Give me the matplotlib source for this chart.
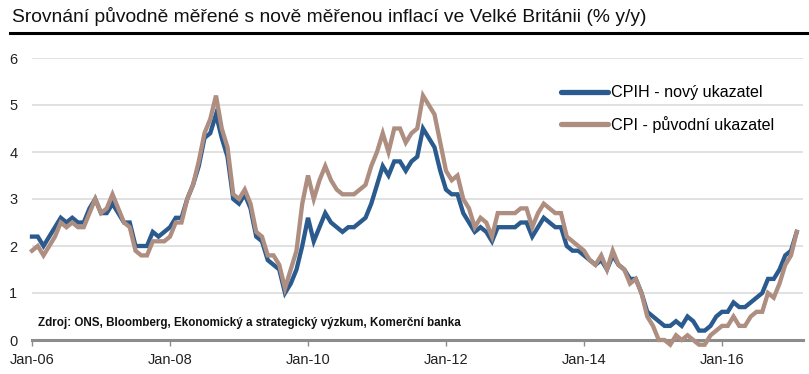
import numpy as np
import matplotlib
matplotlib.use("Agg")
import matplotlib.pyplot as plt

plt.rcParams['font.family'] = ['Liberation Sans', 'DejaVu Sans']

# monthly data, Jan 2006 - Feb 2017 (% y/y)
cpih = [
    2.2, 2.2, 2.0, 2.2, 2.4, 2.6, 2.5, 2.6, 2.5, 2.5, 2.8, 3.0,   # 2006
    2.7, 2.7, 2.9, 2.7, 2.5, 2.5, 2.0, 2.0, 2.0, 2.3, 2.2, 2.3,   # 2007
    2.4, 2.6, 2.6, 3.0, 3.3, 3.7, 4.3, 4.4, 4.8, 4.3, 3.9, 3.0,   # 2008
    2.9, 3.1, 2.8, 2.2, 2.1, 1.7, 1.6, 1.5, 1.0, 1.2, 1.5, 2.0,   # 2009
    2.6, 2.1, 2.4, 2.7, 2.5, 2.4, 2.3, 2.4, 2.4, 2.5, 2.6, 2.9,   # 2010
    3.3, 3.7, 3.5, 3.8, 3.8, 3.6, 3.8, 3.9, 4.5, 4.3, 4.1, 3.6,   # 2011
    3.2, 3.1, 3.1, 2.7, 2.5, 2.3, 2.4, 2.3, 2.1, 2.4, 2.4, 2.4,   # 2012
    2.4, 2.5, 2.5, 2.2, 2.4, 2.6, 2.5, 2.4, 2.4, 2.0, 1.9, 1.9,   # 2013
    1.8, 1.7, 1.6, 1.7, 1.5, 1.8, 1.6, 1.5, 1.3, 1.3, 1.0, 0.6,   # 2014
    0.5, 0.4, 0.3, 0.3, 0.4, 0.3, 0.5, 0.4, 0.2, 0.2, 0.3, 0.5,   # 2015
    0.6, 0.6, 0.8, 0.7, 0.7, 0.8, 0.9, 1.0, 1.3, 1.3, 1.5, 1.8,   # 2016
    1.9, 2.3,                                                     # 2017
]
cpi = [
    1.9, 2.0, 1.8, 2.0, 2.2, 2.5, 2.4, 2.5, 2.4, 2.4, 2.7, 3.0,
    2.7, 2.8, 3.1, 2.8, 2.5, 2.4, 1.9, 1.8, 1.8, 2.1, 2.1, 2.1,
    2.2, 2.5, 2.5, 3.0, 3.3, 3.8, 4.4, 4.7, 5.2, 4.5, 4.1, 3.1,
    3.0, 3.2, 2.9, 2.3, 2.2, 1.8, 1.8, 1.6, 1.1, 1.5, 1.9, 2.9,
    3.5, 3.0, 3.4, 3.7, 3.4, 3.2, 3.1, 3.1, 3.1, 3.2, 3.3, 3.7,
    4.0, 4.4, 4.0, 4.5, 4.5, 4.2, 4.4, 4.5, 5.2, 5.0, 4.8, 4.2,
    3.6, 3.4, 3.5, 3.0, 2.8, 2.4, 2.6, 2.5, 2.2, 2.7, 2.7, 2.7,
    2.7, 2.8, 2.8, 2.4, 2.7, 2.9, 2.8, 2.7, 2.7, 2.2, 2.1, 2.0,
    1.9, 1.7, 1.6, 1.8, 1.5, 1.9, 1.6, 1.5, 1.2, 1.3, 1.0, 0.5,
    0.3, 0.0, 0.0, -0.1, 0.1, 0.0, 0.1, 0.0, -0.1, -0.1, 0.1, 0.2,
    0.3, 0.3, 0.5, 0.3, 0.3, 0.5, 0.6, 0.6, 1.0, 0.9, 1.2, 1.6,
    1.8, 2.3,
]
tick_labels = ["Jan-06", "Jan-08", "Jan-10", "Jan-12", "Jan-14", "Jan-16"]

months = np.arange(len(cpi))

fig = plt.figure(figsize=(8.09, 3.74), dpi=100)
ax = fig.add_axes([32 / 809, 34 / 374, 770.5 / 809, 282 / 374])

ax.plot(months, cpih, color='#2b5a8e', lw=3.1, label='CPIH - nový ukazatel',
        solid_joinstyle='miter', clip_on=False, zorder=3)
ax.plot(months, cpi, color='#ae8e80', lw=3.1, label='CPI - původní ukazatel',
        solid_joinstyle='miter', clip_on=False, zorder=4)

ax.set_xlim(0, 134)
ax.set_ylim(0, 6)
ax.set_yticks(range(0, 7))
ax.set_xticks(np.arange(0, 121, 24))
ax.set_xticklabels(tick_labels)
ax.grid(axis='y', color='#dcdcdc', lw=1.2)
ax.set_axisbelow(True)

for side in ['top', 'right', 'left']:
    ax.spines[side].set_visible(False)
ax.spines['bottom'].set_color('#8c8c8c')
ax.spines['bottom'].set_linewidth(2.2)
ax.spines['bottom'].set_zorder(2)
ax.tick_params(axis='y', length=0, pad=10.5, labelsize=10.5, labelcolor='#222222')
ax.tick_params(axis='x', length=4, width=1, color='#8c8c8c', pad=5,
               labelsize=10.5, labelcolor='#222222')

leg = ax.legend(loc='upper left', bbox_to_anchor=(0.6866, 0.903), frameon=False,
                borderpad=0, borderaxespad=0, handlelength=2.9, handletextpad=0.2,
                labelspacing=0.95, fontsize=11.6)
for line in leg.get_lines():
    line.set_linewidth(3.8)
    line.set_solid_capstyle('round')

ax.text(0.008, 0.06, "Zdroj: ONS, Bloomberg, Ekonomický a strategický výzkum, Komerční banka",
        transform=ax.transAxes, fontsize=8.4, fontweight='bold', color='#111111',
        va='center', ha='left')

fig.text(12 / 809, 1 - 16 / 374, "Srovnání původně měřené s nově měřenou inflací ve Velké Británii (% y/y)",
         fontsize=13.9, color='#111111', va='center', ha='left')
fig.add_artist(plt.Line2D([10 / 809, 1.0], [1 - 33 / 374, 1 - 33 / 374],
                          color='black', lw=2.2, transform=fig.transFigure))

fig.savefig('out.png', dpi=100)
